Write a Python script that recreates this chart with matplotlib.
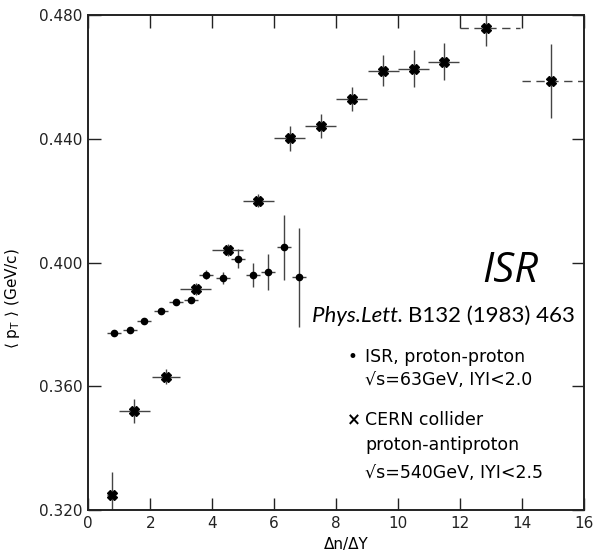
import matplotlib.pyplot as plt
import numpy as np
from matplotlib.ticker import MultipleLocator, FormatStrFormatter

# ISR proton-proton (dots)
isr_x = [0.83, 1.34, 1.81, 2.34, 2.82, 3.32, 3.80, 4.34, 4.84, 5.32, 5.81, 6.31, 6.81]
isr_y = [0.3773, 0.3782, 0.3812, 0.3842, 0.3872, 0.3880, 0.3961, 0.3951, 0.4013, 0.3960, 0.3970, 0.4049, 0.3952]
isr_yerr = [0.0005, 0.0005, 0.0006, 0.0007, 0.0008, 0.0009, 0.0015, 0.002, 0.003, 0.004, 0.0058, 0.0105, 0.016]
isr_xerr = [0.23] * 13

# CERN collider proton-antiproton (crosses)
cern_x = [0.75, 1.48, 2.50, 3.47, 4.50, 5.48, 6.50, 7.51, 8.50, 9.52, 10.51, 11.48]
cern_y = [0.3248, 0.3520, 0.3631, 0.3914, 0.4040, 0.4200, 0.4401, 0.4441, 0.4529, 0.4620, 0.4626, 0.4649]
cern_yerr = [0.0075, 0.004, 0.0025, 0.002, 0.002, 0.002, 0.004, 0.004, 0.004, 0.005, 0.006, 0.006]
cern_xerr = [0.15, 0.5, 0.45, 0.5, 0.5, 0.5, 0.5, 0.5, 0.5, 0.5, 0.5, 0.5]

# wide bins, drawn dashed
wide_x = [12.83, 14.92]
wide_y = [0.4759, 0.4588]
wide_yerr = [0.006, 0.012]
wide_xlo = [0.84, 0.92]
wide_xhi = [1.10, 1.08]

plt.figure(figsize=(5.95, 5.58), dpi=100)
ax = plt.axes([0.1484, 0.086, 0.8331, 0.887])
plt.xlim(0, 16)
plt.ylim(0.320, 0.480)

ax.xaxis.set_major_locator(MultipleLocator(2))
ax.yaxis.set_major_locator(MultipleLocator(0.04))
ax.yaxis.set_major_formatter(FormatStrFormatter('%.3f'))
ax.tick_params(direction='in', length=9, width=1, top=True, right=True,
               labelsize=11, pad=4, colors='#222222')
for s in ax.spines.values():
    s.set_linewidth(1.4)
    s.set_color('#222222')

ecol = '#444444'
plt.errorbar(isr_x, isr_y, yerr=isr_yerr, xerr=isr_xerr, fmt='o', color='black',
             ms=4.5, ecolor=ecol, elinewidth=1, capsize=0)
plt.errorbar(cern_x, cern_y, yerr=cern_yerr, xerr=cern_xerr, fmt='X', color='black',
             ms=7, ecolor=ecol, elinewidth=1, capsize=0)
eb = plt.errorbar(wide_x, wide_y, yerr=wide_yerr, xerr=[wide_xlo, wide_xhi], fmt='X',
                  color='black', ms=7, ecolor=ecol, elinewidth=1, capsize=0)
eb[2][0].set_linestyle((0, (6, 4)))

plt.xlabel('\u0394n/\u0394Y', fontsize=11)
ax.xaxis.set_label_coords(0.52, -0.055)
plt.ylabel('\u27e8 p$_\\mathregular{T}$ \u27e9 (GeV/c)', fontsize=11)
ax.yaxis.set_label_coords(-0.133, 0.428)

plt.text(0.907, 0.483, 'ISR', transform=ax.transAxes, fontsize=30, style='italic',
         family='Open Sans', ha='right', va='center')
ref = plt.text(0.982, 0.392, 'B132 (1983) 463', transform=ax.transAxes,
               fontsize=16, family='Lato', ha='right', va='center')
plt.annotate('Phys.Lett. ', xy=(0, 0.5), xycoords=ref, fontsize=16, family='Lato',
             style='italic', ha='right', va='center')

lx = 0.522
tx = 0.558
plt.text(lx, 0.309, '\u2022', transform=ax.transAxes, fontsize=12, va='center')
plt.text(tx, 0.309, 'ISR, proton-proton', transform=ax.transAxes, fontsize=12.5, va='center')
plt.text(tx, 0.263, '\u221as=63GeV, IYI<2.0', transform=ax.transAxes, fontsize=12.5, va='center')
plt.text(lx, 0.182, '\u00d7', transform=ax.transAxes, fontsize=12, va='center', weight='bold')
plt.text(tx, 0.182, 'CERN collider', transform=ax.transAxes, fontsize=12.5, va='center')
plt.text(tx, 0.131, 'proton-antiproton', transform=ax.transAxes, fontsize=12.5, va='center')
plt.text(tx, 0.075, '\u221as=540GeV, IYI<2.5', transform=ax.transAxes, fontsize=12.5, va='center')

plt.savefig('out.png', dpi=100)
